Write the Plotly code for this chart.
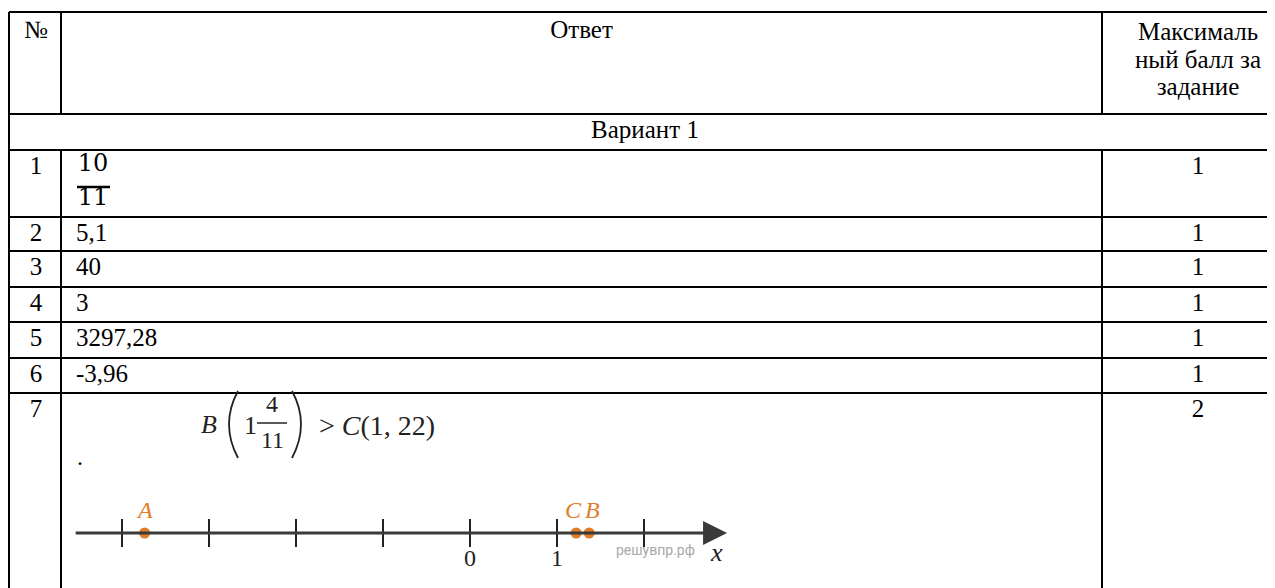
import plotly.graph_objects as go

# --- данные таблицы ---
header_num = "№"
header_answer = "Ответ"
header_score = ["Максималь", "ный балл за", "задание"]
variant_title = "Вариант 1"

task_numbers = ["1", "2", "3", "4", "5", "6", "7"]
answers = ["", "5,1", "40", "3", "3297,28", "-3,96", ""]
max_scores = ["1", "1", "1", "1", "1", "1", "2"]
frac_num, frac_den = "10", "11"

# --- данные числовой прямой (задание 7) ---
nl_ticks = [-4, -3, -2, -1, 0, 1, 2]
nl_tick_labels = ["0", "1"]
nl_tick_label_pos = [0, 1]
pt_names = ["A", "C", "B"]
pt_values = [-3.74, 1.22, 1.37]
pt_label_shift = [0, -3, 3]

# --- разметка (пиксели страницы; у body отступ 8px) ---
PAD = 8
W, H = 1275, 588
col_edges = [9, 61, 1102]
row_edges = [12, 114, 150, 217, 251, 287, 322, 358, 393]
FONT = "Liberation Serif"
FS = 25
ORANGE = "#e07d28"
LINE = "#3a3a3a"
INK = "#222222"

fig = go.Figure()

# линии таблицы
blk = dict(color="black", width=2)
shapes = []
for y in row_edges:
    shapes.append(dict(type="line", x0=col_edges[0], x1=W + 5, y0=y, y1=y, line=blk))
shapes.append(dict(type="line", x0=col_edges[0], x1=col_edges[0], y0=row_edges[0], y1=H + 5, line=blk))
for x in col_edges[1:]:
    shapes.append(dict(type="line", x0=x, x1=x, y0=row_edges[0], y1=row_edges[1], line=blk))
    shapes.append(dict(type="line", x0=x, x1=x, y0=row_edges[2], y1=H + 5, line=blk))
# черта над знаменателем 11 (как в исходнике)
shapes.append(dict(type="line", x0=77, x1=110, y0=187, y1=187, line=dict(color="black", width=2.5)))
# формула: дробная черта 4/11 и большие скобки
shapes.append(dict(type="line", x0=257, x1=287, y0=423, y1=423, line=dict(color=INK, width=1.5)))
shapes.append(dict(type="path", path="M 238 391 Q 220 424 238 458", line=dict(color=INK, width=1.8)))
shapes.append(dict(type="path", path="M 292 391 Q 310 424 292 458", line=dict(color=INK, width=1.8)))

txt = dict(family=FONT, size=FS, color="black")
row_y = [row_edges[i] + 18 for i in range(2, 9)]
num_x = (col_edges[0] + col_edges[1]) / 2 + 1
score_x = 1198

# заголовок
fig.add_trace(go.Scatter(
    x=[num_x, (col_edges[1] + col_edges[2]) / 2] + [score_x] * 3,
    y=[32, 32, 34, 62, 89],
    text=[header_num, header_answer] + header_score,
    mode="text", textposition="middle center", textfont=txt, hoverinfo="skip"))
fig.add_trace(go.Scatter(
    x=[645], y=[row_edges[1] + 18], text=[variant_title],
    mode="text", textposition="middle center", textfont=txt, hoverinfo="skip"))

# строки
fig.add_trace(go.Scatter(x=[num_x] * len(task_numbers), y=row_y, text=task_numbers,
                         mode="text", textposition="middle center", textfont=txt, hoverinfo="skip"))
fig.add_trace(go.Scatter(x=[76] * len(answers), y=row_y, text=answers,
                         mode="text", textposition="middle right", textfont=txt, hoverinfo="skip"))
fig.add_trace(go.Scatter(x=[score_x] * len(max_scores), y=row_y, text=max_scores,
                         mode="text", textposition="middle center", textfont=txt, hoverinfo="skip"))
fig.add_trace(go.Scatter(x=[93, 93], y=[165, 199], text=[frac_num, frac_den],
                         mode="text", textposition="middle center",
                         textfont=dict(family="DejaVu Serif", size=24, color="black"), hoverinfo="skip"))

# числовая прямая на отдельной оси x2
NL_Y = 533
fig.add_trace(go.Scatter(x=nl_ticks, y=[NL_Y] * len(nl_ticks), xaxis="x2", yaxis="y",
                         mode="markers", hoverinfo="skip",
                         marker=dict(symbol="line-ns", size=20, line=dict(color=INK, width=2))))
fig.add_trace(go.Scatter(x=pt_values, y=[NL_Y] * len(pt_values), xaxis="x2", yaxis="y",
                         mode="markers", hoverinfo="skip",
                         marker=dict(symbol="circle", size=11, color=ORANGE)))
fig.add_trace(go.Scatter(x=nl_tick_label_pos, y=[560, 560], xaxis="x2", yaxis="y",
                         text=nl_tick_labels, mode="text", textposition="middle center",
                         hoverinfo="skip", textfont=dict(family=FONT, size=24, color=INK)))

ann = [
    # ось со стрелкой
    dict(x=2.955, y=NL_Y, xref="x2", yref="y", ax=-4.55, ay=NL_Y, axref="x2", ayref="y",
         text="", showarrow=True, arrowhead=2, arrowsize=1.6, arrowwidth=3,
         arrowcolor=LINE, standoff=0),
    dict(x=655, y=550, xref="x", yref="y", text="решувпр.рф", showarrow=False,
         font=dict(family="Roboto", size=14, color="#a8a8a8")),
    dict(x=716, y=552, xref="x", yref="y", text="<i>x</i>", showarrow=False,
         font=dict(family=FONT, size=26, color=INK)),
    # формула B(1 4/11) > C(1,22)
    dict(x=209, y=424, xref="x", yref="y", text="<i>B</i>", showarrow=False,
         font=dict(family=FONT, size=26, color=INK)),
    dict(x=250, y=425, xref="x", yref="y", text="1", showarrow=False,
         font=dict(family=FONT, size=26, color=INK)),
    dict(x=272, y=404, xref="x", yref="y", text="4", showarrow=False,
         font=dict(family=FONT, size=24, color=INK)),
    dict(x=272, y=440, xref="x", yref="y", text="11", showarrow=False,
         font=dict(family=FONT, size=24, color=INK)),
    dict(x=317, y=425, xref="x", yref="y", text="&gt; <i>C</i>(1, 22)", showarrow=False,
         xanchor="left", font=dict(family=FONT, size=28, color=INK)),
    dict(x=80, y=457, xref="x", yref="y", text=".", showarrow=False,
         font=dict(family=FONT, size=24, color="black")),
]
for name, v, dx in zip(pt_names, pt_values, pt_label_shift):
    ann.append(dict(x=v, y=510, xref="x2", yref="y", text=f"<i>{name}</i>", showarrow=False,
                    xshift=dx, font=dict(family=FONT, size=24, color=ORANGE)))

# фигура занимает окно без отступа body (8px слева и сверху)
FW, FH = W - PAD, H - PAD
x0_px, x1_px = 470 - 4.55 * 87, 470 + 3.0 * 87   # 0 на 470px, единица = 87px
fig.update_layout(
    width=FW, height=FH,
    margin=dict(l=0, r=0, t=0, b=0),
    paper_bgcolor="white", plot_bgcolor="rgba(0,0,0,0)",
    showlegend=False,
    shapes=shapes, annotations=ann,
    xaxis=dict(range=[PAD, W], visible=False, fixedrange=True),
    yaxis=dict(range=[H, PAD], visible=False, fixedrange=True),
    xaxis2=dict(range=[-4.55, 3.0], domain=[(x0_px - PAD) / FW, (x1_px - PAD) / FW],
                anchor="y", visible=False, fixedrange=True),
)

fig.write_html("out.html")
